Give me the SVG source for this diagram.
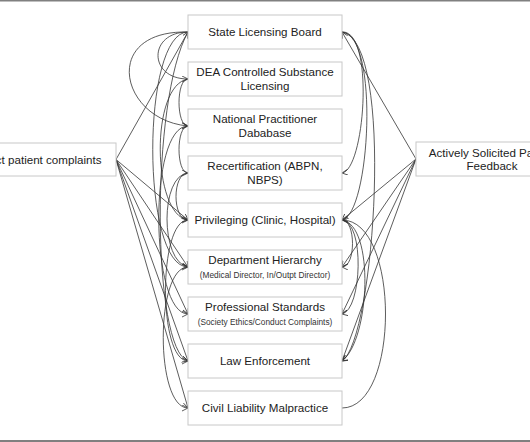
<svg xmlns="http://www.w3.org/2000/svg" width="530" height="442" viewBox="0 0 530 442">
<style>
.box{fill:#fff;stroke:#c8c8c8;stroke-width:1}
.t{font-family:"Liberation Sans",Arial,sans-serif;font-size:11.6px;fill:#222;text-anchor:middle}
.s{font-family:"Liberation Sans",Arial,sans-serif;font-size:8.3px;fill:#333;text-anchor:middle}
.c{fill:none;stroke:#333;stroke-width:0.8;marker-end:url(#arr)}
.n{fill:none;stroke:#333;stroke-width:0.8}
.frame{stroke:#808080;stroke-width:2}
</style>
<defs>
<marker id="arr" markerUnits="userSpaceOnUse" markerWidth="7" markerHeight="7" refX="6" refY="3" orient="auto">
<path d="M0,0 L6,3 L0,6" fill="none" stroke="#333" stroke-width="0.8"/>
</marker>
</defs>
<rect width="530" height="442" fill="#fff"/>
<line class="frame" x1="0" y1="0.5" x2="530" y2="0.5"/>
<line class="frame" x1="0" y1="441" x2="530" y2="441"/>
<g id="connectors">
<!-- left box fan -->
<path class="c" d="M116,159.5 L188,32"/>
<path class="c" d="M116,159.5 L188,220"/>
<path class="c" d="M116,159.5 L188,267"/>
<path class="c" d="M116,159.5 L188,314"/>
<path class="c" d="M116,159.5 L188,361"/>
<path class="c" d="M116,159.5 L188,408"/>
<!-- right box fan -->
<path class="c" d="M416,159 L342,32"/>
<path class="c" d="M416,159 L342,220"/>
<path class="c" d="M416,159 L342,267"/>
<path class="c" d="M416,159 L342,314"/>
<path class="c" d="M416,159 L342,361"/>
<!-- left side curves -->
<path class="c" d="M188,32 C148,32 148,79 188,79"/>
<path class="c" d="M188,32 C100,30 120,120 188,126"/>
<path class="c" d="M188,32 C141,32 141,267 188,267"/>
<path class="c" d="M188,32 C150,100 152,350 188,361"/>
<path class="c" d="M188,79 C176,79 176,126 188,126"/>
<path class="c" d="M188,126 C176,126 176,173 188,173"/>
<path class="c" d="M188,173 C172,173 172,220 188,220"/>
<path class="c" d="M188,126 C148,126 150,314 188,314"/>
<path class="c" d="M188,173 C160,175 160,262 188,267"/>
<path class="c" d="M188,79 C150,85 152,215 188,220"/>
<path class="c" d="M188,220 C158,220 158,361 188,361"/>
<path class="c" d="M188,267 C155,267 155,408 188,408"/>
<!-- right side curves -->
<path class="c" d="M342,32 C375,30 365,170 342,173"/>
<path class="c" d="M342,32 C380,35 370,215 342,220"/>
<path class="c" d="M342,32 C395,40 375,340 342,361"/>
<path class="c" d="M342,220 C356,220 356,267 342,267"/>
<path class="c" d="M342,220 C365,222 362,310 342,314"/>
<path class="c" d="M342,220 C375,225 370,340 342,361"/>
<path class="c" d="M342,408 C400,408 400,220 342,220"/>
</g>
<g id="left">
<rect class="box" x="-38" y="143" width="154" height="33"/>
<text class="t" x="38" y="163.5">Direct patient complaints</text>
</g>
<g id="right">
<rect class="box" x="416" y="142" width="154" height="34"/>
<text class="t" x="492" y="157">Actively Solicited Patient</text>
<text class="t" x="492" y="169.5">Feedback</text>
</g>
<g id="b1">
<rect class="box" x="188" y="15" width="154" height="34"/>
<text class="t" x="265" y="36">State Licensing Board</text>
</g>
<g id="b2">
<rect class="box" x="188" y="62" width="154" height="34"/>
<text class="t" x="265" y="75.5">DEA Controlled Substance</text>
<text class="t" x="265" y="90">Licensing</text>
</g>
<g id="b3">
<rect class="box" x="188" y="109" width="154" height="34"/>
<text class="t" x="265" y="123">National Practitioner</text>
<text class="t" x="265" y="137">Dababase</text>
</g>
<g id="b4">
<rect class="box" x="188" y="156" width="154" height="34"/>
<text class="t" x="265" y="169.5">Recertification (ABPN,</text>
<text class="t" x="265" y="184">NBPS)</text>
</g>
<g id="b5">
<rect class="box" x="188" y="203" width="154" height="34"/>
<text class="t" x="265" y="224">Privileging (Clinic, Hospital)</text>
</g>
<g id="b6">
<rect class="box" x="188" y="250" width="154" height="34"/>
<text class="t" x="265" y="264">Department Hierarchy</text>
<text class="s" x="265" y="278">(Medical Director, In/Outpt Director)</text>
</g>
<g id="b7">
<rect class="box" x="188" y="297" width="154" height="34"/>
<text class="t" x="265" y="311">Professional Standards</text>
<text class="s" x="265" y="325">(Society Ethics/Conduct Complaints)</text>
</g>
<g id="b8">
<rect class="box" x="188" y="344" width="154" height="34"/>
<text class="t" x="265" y="365">Law Enforcement</text>
</g>
<g id="b9">
<rect class="box" x="188" y="391" width="154" height="34"/>
<text class="t" x="265" y="412">Civil Liability Malpractice</text>
</g>
</svg>
